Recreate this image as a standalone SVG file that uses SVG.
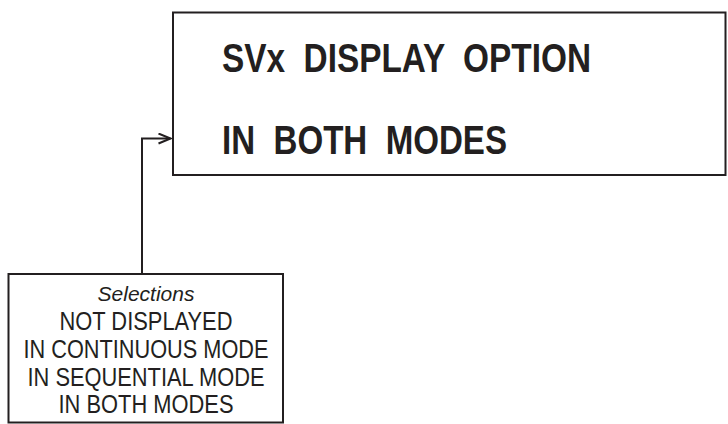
<svg xmlns="http://www.w3.org/2000/svg" width="728" height="424" viewBox="0 0 728 424">
<defs>
<style>
.box{fill:#fff;stroke:#231f20;stroke-width:2}
.big{font-family:"Liberation Sans",Arial,sans-serif;font-weight:bold;font-size:40px;fill:#231f20;white-space:pre}
.sm{font-family:"Liberation Sans",Arial,sans-serif;font-size:25px;fill:#231f20;text-anchor:middle}
.it{font-family:"Liberation Sans",Arial,sans-serif;font-size:21px;font-style:italic;fill:#231f20;text-anchor:middle}
.line{fill:none;stroke:#231f20;stroke-width:2}
</style>
<marker id="arr" viewBox="0 0 14 12" refX="13" refY="6" markerWidth="14" markerHeight="12" markerUnits="userSpaceOnUse" orient="auto">
<path d="M1,1 L13,6 L1,11" fill="none" stroke="#231f20" stroke-width="2"/>
</marker>
</defs>
<g id="connectors">
<path class="line" d="M142,274 L142,138.5 L170.5,138.5" marker-end="url(#arr)"/>
</g>
<g id="main">
<rect class="box" x="173" y="12.5" width="552.5" height="162.5"/>
<text class="big" x="222" y="72" textLength="369" lengthAdjust="spacingAndGlyphs" xml:space="preserve">SVx  DISPLAY  OPTION</text>
<text class="big" x="222" y="154" textLength="285" lengthAdjust="spacingAndGlyphs" xml:space="preserve">IN  BOTH  MODES</text>
</g>
<g id="legend">
<rect class="box" x="8.5" y="274" width="274.5" height="148.5"/>
<text class="it" x="146" y="301">Selections</text>
<text class="sm" x="146" y="330" textLength="173" lengthAdjust="spacingAndGlyphs">NOT DISPLAYED</text>
<text class="sm" x="146" y="358" textLength="245" lengthAdjust="spacingAndGlyphs">IN CONTINUOUS MODE</text>
<text class="sm" x="146" y="386" textLength="237" lengthAdjust="spacingAndGlyphs">IN SEQUENTIAL MODE</text>
<text class="sm" x="146" y="413" textLength="175" lengthAdjust="spacingAndGlyphs">IN BOTH MODES</text>
</g>
</svg>
